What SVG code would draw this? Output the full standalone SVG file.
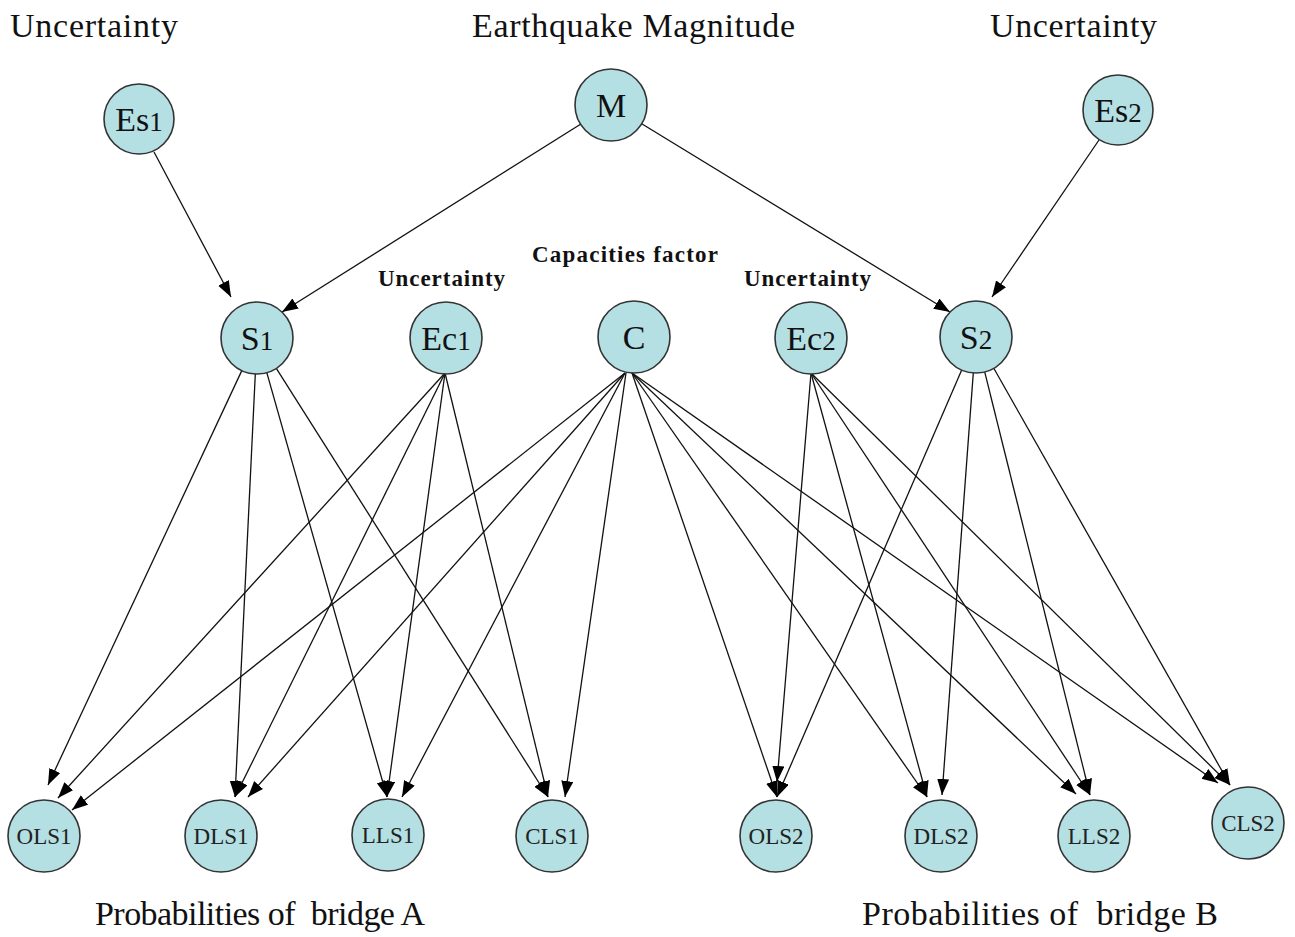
<svg xmlns="http://www.w3.org/2000/svg" width="1295" height="937" viewBox="0 0 1295 937">
<style>
.node{fill:#b4dfe3;stroke:#333;stroke-width:1.6}
.lbl{font-family:"Liberation Serif","Times New Roman",serif;font-size:34px;fill:#111;text-anchor:middle}
.dig{font-size:27px}
.sm{font-family:"Liberation Serif","Times New Roman",serif;font-size:23px;fill:#222;text-anchor:middle}
.title{font-family:"Liberation Serif","Times New Roman",serif;font-size:34px;fill:#111}
.sub{font-family:"Liberation Serif","Times New Roman",serif;font-size:23px;font-weight:bold;fill:#111}
.edge{stroke:#111;stroke-width:1.3;fill:none;marker-end:url(#arr)}
</style>
<defs>
<marker id="arr" markerUnits="userSpaceOnUse" markerWidth="17" markerHeight="13" refX="16" refY="6" orient="auto">
<path d="M0,0 L16,6 L0,12 z" fill="#000"/>
</marker>
</defs>
<rect width="1295" height="937" fill="#fff"/>

<g id="labels">
<text class="title" x="10" y="37" textLength="168">Uncertainty</text>
<text class="title" x="472" y="37" textLength="323">Earthquake Magnitude</text>
<text class="title" x="990" y="37" textLength="167">Uncertainty</text>
<text class="sub" x="532" y="262" textLength="186">Capacities factor</text>
<text class="sub" x="378" y="286" textLength="127">Uncertainty</text>
<text class="sub" x="744" y="286" textLength="127">Uncertainty</text>
<text class="title" x="95" y="925" textLength="330" xml:space="preserve">Probabilities of  bridge A</text>
<text class="title" x="862" y="925" textLength="356" xml:space="preserve">Probabilities of  bridge B</text>
</g>

<g id="connectors">
<line class="edge" x1="154" y1="152" x2="231" y2="297"/>
<line class="edge" x1="580.5" y1="124.2" x2="282" y2="312"/>
<line class="edge" x1="641.7" y1="123.8" x2="950" y2="312"/>
<line class="edge" x1="1099" y1="140" x2="992" y2="297"/>

<line class="edge" x1="241.8" y1="370.6" x2="48" y2="785"/>
<line class="edge" x1="255.3" y1="374" x2="235" y2="797"/>
<line class="edge" x1="266.8" y1="372.6" x2="387" y2="797"/>
<line class="edge" x1="276.3" y1="368.4" x2="548" y2="797"/>

<line class="edge" x1="445" y1="373" x2="58" y2="798"/>
<line class="edge" x1="445" y1="373" x2="235" y2="797"/>
<line class="edge" x1="445" y1="373" x2="387" y2="797"/>
<line class="edge" x1="445" y1="373" x2="548" y2="797"/>

<line class="edge" x1="625" y1="373" x2="72" y2="810"/>
<line class="edge" x1="625" y1="373" x2="248" y2="797"/>
<line class="edge" x1="625" y1="373" x2="402" y2="797"/>
<line class="edge" x1="626" y1="373" x2="565" y2="797"/>
<line class="edge" x1="632" y1="373" x2="777" y2="797"/>
<line class="edge" x1="632" y1="373" x2="927" y2="797"/>
<line class="edge" x1="632" y1="373" x2="1076" y2="794"/>
<line class="edge" x1="632" y1="373" x2="1218" y2="783"/>

<line class="edge" x1="811" y1="373" x2="777" y2="782"/>
<line class="edge" x1="811" y1="373" x2="927" y2="797"/>
<line class="edge" x1="811" y1="373" x2="1090" y2="795"/>
<line class="edge" x1="811" y1="373" x2="1230" y2="785"/>

<line class="edge" x1="961.7" y1="370" x2="777" y2="797"/>
<line class="edge" x1="973.3" y1="372.9" x2="942" y2="795"/>
<line class="edge" x1="984.7" y1="371.9" x2="1090" y2="795"/>
<line class="edge" x1="993.8" y1="368.3" x2="1230" y2="785"/>
</g>

<g id="Es1"><circle class="node" cx="139" cy="119" r="35"/><text class="lbl" x="139" y="131">Es<tspan class="dig">1</tspan></text></g>
<g id="M"><circle class="node" cx="611" cy="105" r="36"/><text class="lbl" x="611" y="117">M</text></g>
<g id="Es2"><circle class="node" cx="1118" cy="110" r="35"/><text class="lbl" x="1118" y="122">Es<tspan class="dig">2</tspan></text></g>

<g id="S1"><circle class="node" cx="257" cy="338" r="36"/><text class="lbl" x="257" y="350">S<tspan class="dig">1</tspan></text></g>
<g id="Ec1"><circle class="node" cx="446" cy="338" r="36"/><text class="lbl" x="446" y="350">Ec<tspan class="dig">1</tspan></text></g>
<g id="C"><circle class="node" cx="634" cy="337" r="36"/><text class="lbl" x="634" y="349">C</text></g>
<g id="Ec2"><circle class="node" cx="811" cy="338" r="36"/><text class="lbl" x="811" y="350">Ec<tspan class="dig">2</tspan></text></g>
<g id="S2"><circle class="node" cx="976" cy="337" r="36"/><text class="lbl" x="976" y="349">S<tspan class="dig">2</tspan></text></g>

<g id="OLS1"><circle class="node" cx="44" cy="836" r="36"/><text class="sm" x="44" y="844">OLS1</text></g>
<g id="DLS1"><circle class="node" cx="221" cy="836" r="36"/><text class="sm" x="221" y="844">DLS1</text></g>
<g id="LLS1"><circle class="node" cx="388" cy="835" r="36"/><text class="sm" x="388" y="843">LLS1</text></g>
<g id="CLS1"><circle class="node" cx="552" cy="836" r="36"/><text class="sm" x="552" y="844">CLS1</text></g>
<g id="OLS2"><circle class="node" cx="776" cy="836" r="36"/><text class="sm" x="776" y="844">OLS2</text></g>
<g id="DLS2"><circle class="node" cx="941" cy="836" r="36"/><text class="sm" x="941" y="844">DLS2</text></g>
<g id="LLS2"><circle class="node" cx="1094" cy="836" r="36"/><text class="sm" x="1094" y="844">LLS2</text></g>
<g id="CLS2"><circle class="node" cx="1248" cy="823" r="36"/><text class="sm" x="1248" y="831">CLS2</text></g>
</svg>
